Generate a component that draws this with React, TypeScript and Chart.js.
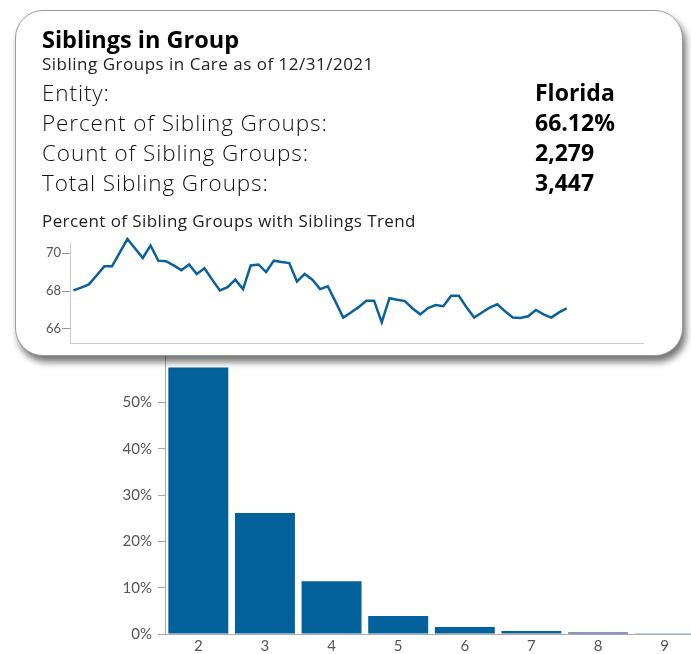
import React, { useEffect, useRef } from "react";
import { Chart, registerables } from "chart.js";

Chart.register(...registerables);

// ---- Bar chart data ----
const sizeCategories = ["2", "3", "4", "5", "6", "7", "8", "9"];
const sizeShares = [57.5, 26.1, 11.4, 3.9, 1.5, 0.65, 0.3, 0.05];
const barColors = ["#03619c", "#03619c", "#03619c", "#03619c", "#03619c", "#03619c", "#1b2f7f", "#03619c"];
const barTicks = [0, 10, 20, 30, 40, 50];

// ---- Trend sparkline data ----
const trendMonths = [
  "2016-08", "2016-09", "2016-10", "2016-11", "2016-12",
  "2017-01", "2017-02", "2017-03", "2017-04", "2017-05", "2017-06", "2017-07", "2017-08", "2017-09", "2017-10", "2017-11", "2017-12",
  "2018-01", "2018-02", "2018-03", "2018-04", "2018-05", "2018-06", "2018-07", "2018-08", "2018-09", "2018-10", "2018-11", "2018-12",
  "2019-01", "2019-02", "2019-03", "2019-04", "2019-05", "2019-06", "2019-07", "2019-08", "2019-09", "2019-10", "2019-11", "2019-12",
  "2020-01", "2020-02", "2020-03", "2020-04", "2020-05", "2020-06", "2020-07", "2020-08", "2020-09", "2020-10", "2020-11", "2020-12",
  "2021-01", "2021-02", "2021-03", "2021-04", "2021-05", "2021-06", "2021-07", "2021-08", "2021-09", "2021-10", "2021-11", "2021-12",
];
const trendValues = [
  68.03, 68.18, 68.35, 68.82, 69.3, 69.3, 70.02, 70.74, 70.24, 69.74,
  70.4, 69.6, 69.57, 69.35, 69.1, 69.4, 68.9, 69.2, 68.6, 68.03,
  68.2, 68.6, 68.1, 69.35, 69.4, 69.0, 69.6, 69.53, 69.47, 68.5,
  68.9, 68.6, 68.1, 68.25, 67.44, 66.6, 66.87, 67.15, 67.49, 67.49,
  66.35, 67.62, 67.54, 67.47, 67.08, 66.77, 67.1, 67.26, 67.2, 67.75,
  67.75, 67.14, 66.6, 66.87, 67.12, 67.3, 66.93, 66.6, 66.58, 66.67,
  67.0, 66.77, 66.6, 66.87, 67.08,
];
const trendTicks = [66, 68, 70];

// ---- Card text ----
const cardTitle = "Siblings in Group";
const cardSubtitle = "Sibling Groups in Care as of 12/31/2021";
const infoLabels = ["Entity:", "Percent of Sibling Groups:", "Count of Sibling Groups:", "Total Sibling Groups:"];
const infoValues = ["Florida", "66.12%", "2,279", "3,447"];
const trendTitle = "Percent of Sibling Groups with Siblings Trend";

const CHART_FONT = "Lato, 'Open Sans', sans-serif";
const CARD_FONT = "'Open Sans', Lato, sans-serif";

function Txt(props: {
  x: number;
  baseline: number;
  size: number;
  weight?: number;
  color?: string;
  spacing?: number;
  children: React.ReactNode;
}) {
  const { x, baseline, size, weight = 400, color = "#111", spacing = 0, children } = props;
  return (
    <div
      style={{
        position: "absolute",
        left: x,
        top: baseline - 0.988 * size,
        fontFamily: CARD_FONT,
        fontSize: size,
        fontWeight: weight,
        letterSpacing: spacing,
        lineHeight: 1.2,
        color,
        whiteSpace: "nowrap",
        zIndex: 3,
      }}
    >
      {children}
    </div>
  );
}

export default function App() {
  const barRef = useRef<HTMLCanvasElement>(null);
  const lineRef = useRef<HTMLCanvasElement>(null);

  useEffect(() => {
    Chart.defaults.font.family = CHART_FONT;
    const bar = new Chart(barRef.current!, {
      type: "bar",
      data: {
        labels: sizeCategories,
        datasets: [
          {
            data: sizeShares,
            backgroundColor: barColors,
            barPercentage: 0.9,
            categoryPercentage: 1,
          },
        ],
      },
      options: {
        animation: false,
        responsive: false,
        maintainAspectRatio: false,
        layout: { padding: { top: 10, left: 0, right: 0, bottom: 0 } },
        plugins: { legend: { display: false }, tooltip: { enabled: false } },
        scales: {
          x: {
            grid: { display: false, drawTicks: false },
            border: { display: true, color: "#aaaaaa" },
            ticks: { color: "#555555", font: { size: 15 }, padding: 3 },
            afterFit: (s: any) => {
              s.height = 20;
            },
          },
          y: {
            min: 0,
            max: 60,
            afterBuildTicks: (s: any) => {
              s.ticks = barTicks.map((v) => ({ value: v }));
            },
            grid: { display: true, drawOnChartArea: false, drawTicks: true, tickLength: 7, color: "#aaaaaa" },
            border: { display: true, color: "#aaaaaa" },
            ticks: { color: "#555555", font: { size: 15 }, padding: 6, callback: (v: any) => v + "%" },
            afterFit: (s: any) => {
              s.width = 165;
            },
          },
        },
      },
    });

    const line = new Chart(lineRef.current!, {
      type: "line",
      data: {
        labels: trendMonths,
        datasets: [
          {
            data: trendValues.map((v, i) => ({ x: i, y: v })),
            borderColor: "#0a609b",
            borderWidth: 2.5,
            pointRadius: 0,
            tension: 0,
            clip: false,
          } as any,
        ],
      },
      options: {
        animation: false,
        responsive: false,
        maintainAspectRatio: false,
        layout: { padding: { top: 13, right: 2, left: 0, bottom: 8 } },
        plugins: { legend: { display: false }, tooltip: { enabled: false } },
        scales: {
          x: {
            type: "linear",
            min: -0.45,
            max: 73.9,
            ticks: { display: false },
            grid: { display: false, drawTicks: false },
            border: { display: true, color: "#cccccc" },
            afterFit: (s: any) => {
              s.height = 3;
            },
          },
          y: {
            min: 65.26,
            max: 70.53,
            afterBuildTicks: (s: any) => {
              s.ticks = trendTicks.map((v) => ({ value: v }));
            },
            grid: { display: true, drawOnChartArea: false, drawTicks: true, tickLength: 8, color: "#999999" },
            border: { display: true, color: "#cccccc" },
            ticks: { color: "#555555", font: { size: 13 }, padding: 1 },
            afterFit: (s: any) => {
              s.width = 50;
            },
          },
        },
      },
    });

    return () => {
      bar.destroy();
      line.destroy();
    };
  }, []);

  const rowBaselines = [101.7, 131.7, 161.7, 191.7];

  return (
    <div
      style={{
        position: "absolute",
        left: 0,
        top: 0,
        width: 691,
        height: 654,
        overflow: "hidden",
        background: "#ffffff",
      }}
    >
      <canvas
        ref={barRef}
        width={698}
        height={313}
        style={{ position: "absolute", left: 0, top: 341, zIndex: 1 }}
      />
      <div
        style={{
          position: "absolute",
          left: 15,
          top: 10,
          width: 668,
          height: 346,
          boxSizing: "border-box",
          borderRadius: 28,
          background: "#ffffff",
          border: "1px solid #9a9a9a",
          boxShadow: "3px 6px 7px rgba(0,0,0,0.55)",
          zIndex: 2,
        }}
      />
      <Txt x={42} baseline={48} size={23.5} weight={700} color="#000">
        {cardTitle}
      </Txt>
      <Txt x={42} baseline={71} size={17} spacing={0.5} color="#222">
        {cardSubtitle}
      </Txt>
      {infoLabels.map((t, i) => (
        <Txt key={"l" + i} x={42} baseline={rowBaselines[i]} size={22.5} weight={300} spacing={0.9} color="#111">
          {t}
        </Txt>
      ))}
      {infoValues.map((t, i) => (
        <Txt key={"v" + i} x={535} baseline={rowBaselines[i]} size={23} weight={700} color="#000">
          {t}
        </Txt>
      ))}
      <Txt x={42} baseline={228} size={17} spacing={0.42} color="#222">
        {trendTitle}
      </Txt>
      <canvas
        ref={lineRef}
        width={625}
        height={124}
        style={{ position: "absolute", left: 20, top: 230, zIndex: 3 }}
      />
    </div>
  );
}
